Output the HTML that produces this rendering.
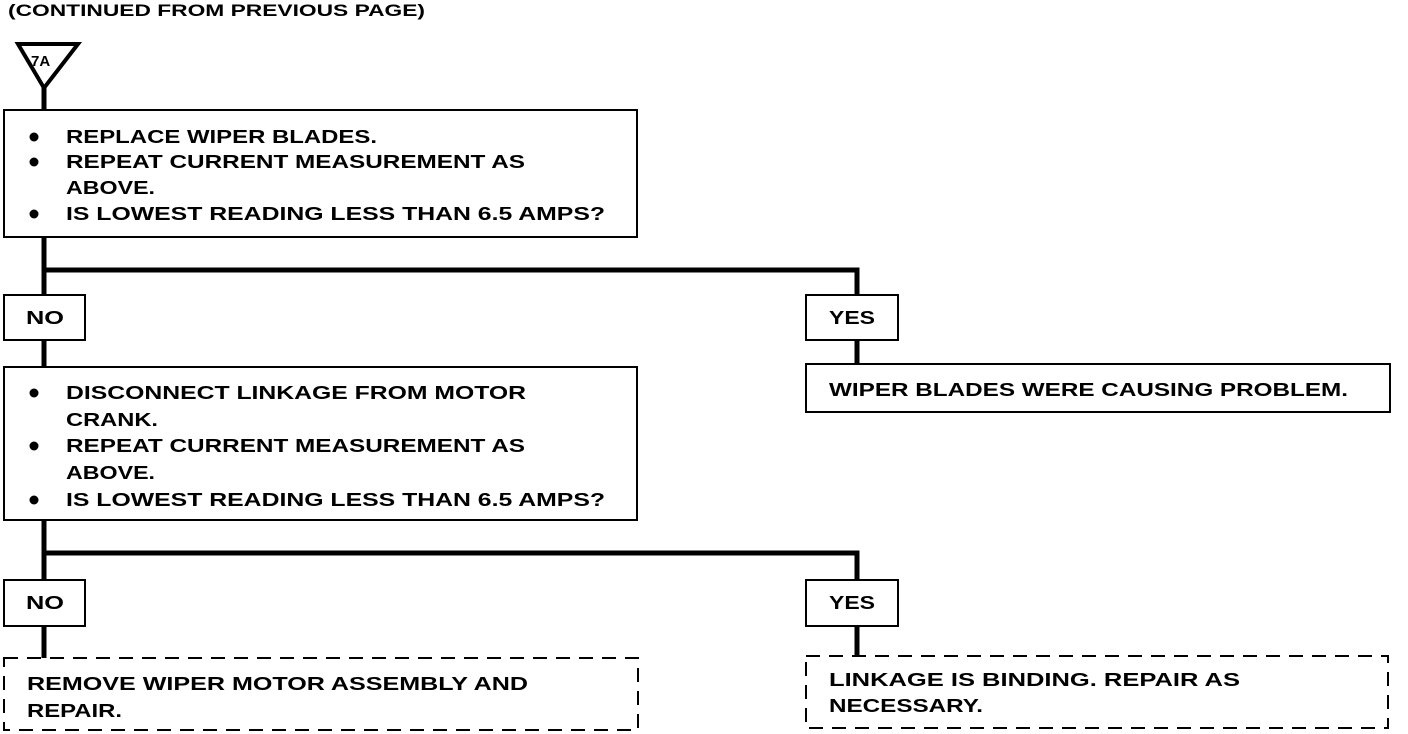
<!DOCTYPE html>
<html><head><meta charset="utf-8"><style>
html,body{margin:0;padding:0;background:#fff;}
svg{display:block;}
text{font-family:"Liberation Sans",sans-serif;font-weight:bold;fill:#000;}
</style></head><body>
<svg width="1408" height="734" viewBox="0 0 1408 734" xmlns="http://www.w3.org/2000/svg">
<text x="8" y="16" font-size="17" font-weight="normal" textLength="417" lengthAdjust="spacingAndGlyphs" style="font-weight:bold">(CONTINUED FROM PREVIOUS PAGE)</text>
<!-- triangle -->
<polygon points="18,44 78,44 44,88" fill="none" stroke="#000" stroke-width="4"/>
<text x="31" y="66" font-size="15">7A</text>
<g stroke="#000" stroke-width="5" fill="none">
<line x1="44" y1="86" x2="44" y2="111"/>
<line x1="44" y1="237" x2="44" y2="296"/>
<polyline points="44,270 857,270 857,296"/>
<line x1="44" y1="340" x2="44" y2="368"/>
<line x1="857" y1="340" x2="857" y2="365"/>
<line x1="44" y1="520" x2="44" y2="581"/>
<polyline points="44,553 857,553 857,581"/>
<line x1="44" y1="626" x2="44" y2="658"/>
<line x1="857" y1="626" x2="857" y2="656"/>
</g>
<g stroke="#000" stroke-width="2" fill="#fff">
<rect x="4" y="110" width="633" height="127"/>
<rect x="4" y="295" width="81" height="45"/>
<rect x="806" y="295" width="92" height="45"/>
<rect x="806" y="364" width="584" height="48"/>
<rect x="4" y="367" width="633" height="153"/>
<rect x="4" y="580" width="81" height="46"/>
<rect x="806" y="580" width="92" height="46"/>
</g>
<g stroke="#000" stroke-width="2" fill="none" stroke-dasharray="14,9">
<rect x="4" y="658" width="634" height="72"/>
<rect x="806" y="656" width="582" height="72"/>
</g>
<g font-size="18">
<circle cx="34" cy="137" r="4.5"/><text x="66" y="143" textLength="311" lengthAdjust="spacingAndGlyphs">REPLACE WIPER BLADES.</text>
<circle cx="34" cy="162" r="4.5"/><text x="66" y="168" textLength="459" lengthAdjust="spacingAndGlyphs">REPEAT CURRENT MEASUREMENT AS</text>
<text x="66" y="194" textLength="89" lengthAdjust="spacingAndGlyphs">ABOVE.</text>
<circle cx="34" cy="214" r="4.5"/><text x="66" y="220" textLength="539" lengthAdjust="spacingAndGlyphs">IS LOWEST READING LESS THAN 6.5 AMPS?</text>

<text x="26" y="324" textLength="38" lengthAdjust="spacingAndGlyphs">NO</text>
<text x="829" y="324" textLength="46" lengthAdjust="spacingAndGlyphs">YES</text>
<text x="829" y="396" textLength="519" lengthAdjust="spacingAndGlyphs">WIPER BLADES WERE CAUSING PROBLEM.</text>

<circle cx="34" cy="393" r="4.5"/><text x="66" y="399" textLength="460" lengthAdjust="spacingAndGlyphs">DISCONNECT LINKAGE FROM MOTOR</text>
<text x="66" y="426" textLength="92" lengthAdjust="spacingAndGlyphs">CRANK.</text>
<circle cx="34" cy="446" r="4.5"/><text x="66" y="452" textLength="459" lengthAdjust="spacingAndGlyphs">REPEAT CURRENT MEASUREMENT AS</text>
<text x="66" y="479" textLength="89" lengthAdjust="spacingAndGlyphs">ABOVE.</text>
<circle cx="34" cy="500" r="4.5"/><text x="66" y="506" textLength="539" lengthAdjust="spacingAndGlyphs">IS LOWEST READING LESS THAN 6.5 AMPS?</text>

<text x="26" y="609" textLength="38" lengthAdjust="spacingAndGlyphs">NO</text>
<text x="829" y="609" textLength="46" lengthAdjust="spacingAndGlyphs">YES</text>

<text x="27" y="690" textLength="501" lengthAdjust="spacingAndGlyphs">REMOVE WIPER MOTOR ASSEMBLY AND</text>
<text x="27" y="717" textLength="95" lengthAdjust="spacingAndGlyphs">REPAIR.</text>
<text x="829" y="686" textLength="411" lengthAdjust="spacingAndGlyphs">LINKAGE IS BINDING.  REPAIR AS</text>
<text x="829" y="712" textLength="154" lengthAdjust="spacingAndGlyphs">NECESSARY.</text>
</g>
</svg>
</body></html>
